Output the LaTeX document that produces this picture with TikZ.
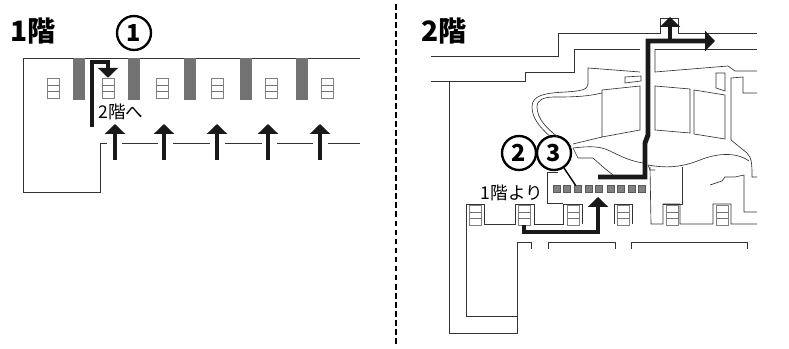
\documentclass[tikz,border=0pt]{standalone}
\usepackage{fontspec}
\newfontfamily\jpfont{Noto Sans CJK JP}
\usetikzlibrary{arrows.meta}

\tikzset{
  wall/.style={draw=black!80,line width=0.55pt},
  route/.style={draw=black!90,line width=4.2pt},
  routetip/.style={route,-{Triangle[width=17pt,length=8.5pt]}},
  pillar/.style={draw=none,fill=black!55,minimum width=10pt,minimum height=36pt,inner sep=0pt},
  stairbox/.style={draw=black!50,line width=0.5pt,minimum width=10pt,minimum height=17pt,inner sep=0pt,
    path picture={
      \draw[black!55,line width=0.5pt]
        ([yshift=5.6pt]path picture bounding box.south west) -- ([yshift=5.6pt]path picture bounding box.south east)
        ([yshift=11.2pt]path picture bounding box.south west) -- ([yshift=11.2pt]path picture bounding box.south east);
    }},
  gatebox/.style={draw=black!65,fill=black!50,line width=0.4pt,minimum size=5.6pt,inner sep=0pt},
  numring/.style={circle,draw=black,line width=2pt,minimum size=29pt,inner sep=0pt,font=\jpfont\bfseries\fontsize{20}{20}\selectfont},
  floorlabel/.style={inner sep=0pt,font=\jpfont\bfseries\fontsize{24}{24}\selectfont},
  smalllabel/.style={inner sep=0pt,font=\jpfont\fontsize{15}{15}\selectfont}
}

\begin{document}
\begin{tikzpicture}[x=0.03cm,y=-0.03cm]
  \useasboundingbox (0,0) rectangle (789,349);

  % 1F
  \node[floorlabel] (FloorOne)  at (33,31)  {1階};
  \node[numring]    (NumOne)    at (134,33) {1};
  \node[smalllabel] (ToSecond)  at (121,112) {2階へ};

  \draw[wall] (360,58) -- (23,58) -- (23,192) -- (100,192) -- (100,143) -- (107,143);
  \draw[wall] (122,143) -- (158,143);
  \draw[wall] (173,143) -- (210,143);
  \draw[wall] (225,143) -- (262,143);
  \draw[wall] (277,143) -- (313,143);
  \draw[wall] (328,143) -- (360,143);

  \node[pillar] (PillarA) at (79,79)  {};
  \node[pillar] (PillarB) at (134,79) {};
  \node[pillar] (PillarC) at (190,79) {};
  \node[pillar] (PillarD) at (246,79) {};
  \node[pillar] (PillarE) at (302,79) {};

  \node[stairbox] (LowStairA) at (53,88)  {};
  \node[stairbox] (LowStairB) at (108,88) {};
  \node[stairbox] (LowStairC) at (162,88) {};
  \node[stairbox] (LowStairD) at (217,88) {};
  \node[stairbox] (LowStairE) at (271,88) {};
  \node[stairbox] (LowStairF) at (327,88) {};

  \coordinate (InA)  at (115,160);
  \coordinate (InB)  at (164,160);
  \coordinate (InC)  at (217,160);
  \coordinate (InD)  at (268,160);
  \coordinate (InE)  at (320,160);
  \coordinate (InAt) at (115,124);
  \coordinate (InBt) at (164,124);
  \coordinate (InCt) at (217,124);
  \coordinate (InDt) at (268,124);
  \coordinate (InEt) at (320,124);

  \draw[routetip] (InA) -- (InAt);
  \draw[routetip] (InB) -- (InBt);
  \draw[routetip] (InC) -- (InCt);
  \draw[routetip] (InD) -- (InDt);
  \draw[routetip] (InE) -- (InEt);

  \coordinate (UpStart) at (92,127);
  \draw[routetip] (UpStart) -- (92,62) -- (108,62) -- (LowStairB.north);

  % divider
  \draw[black,line width=2.2pt,dash pattern=on 5pt off 2.7pt] (396,4) -- (396,345);

  % 2F
  \node[floorlabel] (FloorTwo)  at (444,31) {2階};
  \node[numring]    (NumTwo)    at (519,153) {2};
  \node[numring]    (NumThree)  at (554,153) {3};
  \node[smalllabel] (FromFirst) at (512,193) {1階より};

  \draw[wall] (431,56) -- (558,56) -- (558,33) -- (660,33) -- (660,18) -- (678,18) -- (678,33) -- (757,33);
  \draw[wall] (431,81) -- (525,81) -- (525,72) -- (574,72) -- (574,49) -- (640,49);
  \draw[wall] (640,72) -- (588,68) -- (588,84) .. controls (588,90) and (580,91) .. (566,92)
     .. controls (545,93) and (532,95) .. (532,107) .. controls (532,118) and (540,128) .. (552,138);
  \draw[wall] (602,93) .. controls (585,97) and (570,97) .. (555,97) .. controls (543,97) and (537,100) .. (537,107)
     .. controls (537,118) and (546,128) .. (558,137);
  \draw[wall] (655,49) -- (757,49);
  \draw[wall] (655,49) -- (655,72) -- (728,66) -- (735,71) -- (757,71);

  \draw[wall] (602,90) -- (640,86) -- (640,130) -- (602,137) -- cycle;
  \draw[wall] (655,86) -- (690,89) -- (690,133) -- (655,130) -- cycle;
  \draw[wall] (694,90) -- (725,95) -- (725,139) -- (694,134) -- cycle;
  \draw[wall] (625,77) -- (641,76) -- (641,81) -- (625,83) -- cycle;
  \draw[wall] (716,73) -- (725,73) -- (725,91) -- (716,88) -- cycle;

  \draw[wall] (757,93) -- (743,93) -- (743,77) -- (731,78) -- (731,140) -- (747,153)
     .. controls (752,158) and (752,165) .. (752,177) -- (757,177);
  \draw[wall] (602,137) -- (573,144);
  \draw[wall] (573,148) .. controls (590,146) and (600,146) .. (610,151) .. controls (620,156) and (630,161) .. (643,163);
  \draw[wall] (648,165) .. controls (665,168) and (680,168) .. (700,160) .. controls (715,154) and (735,151) .. (749,161);
  \draw[wall] (573,148) -- (578,158) -- (593,158) -- (603,167) -- (613,175);

  \draw[wall] (710,185) -- (722,181) -- (725,177) -- (735,177) -- (744,175) -- (744,212) -- (757,212);

  \draw[wall] (449,81) -- (449,333) -- (517,333) -- (517,242) -- (531,242) -- (531,249);
  \draw[wall] (466,224) -- (466,316) -- (517,316);
  \draw[wall] (548,249) -- (548,242) -- (615,242) -- (615,249);
  \draw[wall] (631,249) -- (631,242) -- (747,242) -- (747,249);

  \draw[wall] (466,224) -- (466,204) -- (484,204) -- (484,224) -- (515,224) -- (515,204) -- (534,204) -- (534,224)
     -- (563,224) -- (563,204) -- (582,204) -- (582,224);
  \draw[wall] (614,224) -- (614,204) -- (632,204) -- (632,224);
  \draw[wall] (547,172) -- (547,203) -- (563,203);
  \draw[wall] (547,172) -- (558,172);
  \draw[wall] (650,167) -- (651,224) -- (663,224) -- (663,204) -- (680,204) -- (680,224) -- (713,224) -- (713,204)
     -- (731,204) -- (731,224) -- (757,224);
  \draw[wall] (648,165) -- (650,170) -- (655,170);
  \draw[wall] (663,204) -- (682,204) -- (682,167);

  \node[stairbox] (UpStairA) at (475,215) {};
  \node[stairbox] (UpStairB) at (524,215) {};
  \node[stairbox] (UpStairC) at (573,215) {};
  \node[stairbox] (UpStairD) at (623,215) {};
  \node[stairbox] (UpStairE) at (672,215) {};
  \node[stairbox] (UpStairF) at (722,215) {};

  \node[gatebox] (GateA) at (557,189) {};
  \node[gatebox] (GateB) at (567,189) {};
  \node[gatebox] (GateC) at (578,189) {};
  \node[gatebox] (GateD) at (589,189) {};
  \node[gatebox] (GateE) at (599,189) {};
  \node[gatebox] (GateF) at (611,189) {};
  \node[gatebox] (GateG) at (621,189) {};
  \node[gatebox] (GateH) at (632,189) {};
  \node[gatebox] (GateI) at (642,189) {};

  \draw[black,line width=1.2pt] (NumThree) -- (GateC);

  \coordinate (LiftTip) at (598,197);
  \draw[routetip] (UpStairB.south) -- (524,232) -- (598,232) -- (LiftTip);

  \coordinate (ExitStart) at (598,177);
  \coordinate (ExitEast)  at (715,41);
  \coordinate (ExitNorth) at (670,17);
  \coordinate (ExitFork)  at (670,41);
  \draw[routetip] (ExitStart) -- (645,177) -- (645,143) -- (648,135) -- (648,41) -- (ExitEast);
  \draw[routetip] (ExitFork) -- (ExitNorth);
\end{tikzpicture}
\end{document}
